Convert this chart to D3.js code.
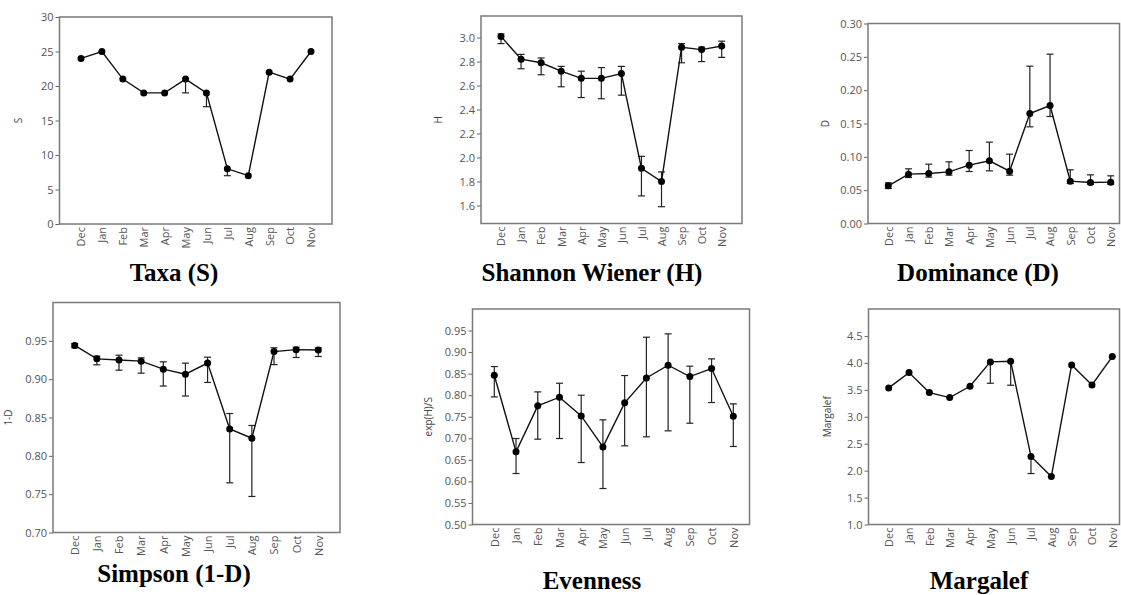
<!DOCTYPE html>
<html>
<head>
<meta charset="utf-8">
<script src="https://cdn.jsdelivr.net/npm/d3@7"></script>
<style>
	body { margin: 0; background: #fff; }
	svg { display: block; }
	.tick text { font-family: 'Open Sans', sans-serif; font-size: 11px; fill: #555; }
	.tick line { stroke: #666; }
	.axis-label { font-family: 'Open Sans', sans-serif; font-size: 10px; fill: #444; }
	.panel-title { font-family: 'Liberation Serif', 'Times New Roman', serif; font-size: 25px; font-weight: bold; fill: #000; }
</style>
</head>
<body>
<svg id="chart-svg" width="1121" height="595"></svg>
<script>
// months on the x axis (Dec .. Nov)
const MONTHS = [ 'Dec', 'Jan', 'Feb', 'Mar', 'Apr', 'May', 'Jun', 'Jul', 'Aug', 'Sep', 'Oct', 'Nov' ];

// Taxa (S)
const S_MEAN = [ 24, 25, 21, 19, 19, 21, 19, 8, 7, 22, 21, 25 ];
const S_LO = [ 24, 25, 21, 19, 19, 19, 17, 7, 7, 22, 21, 25 ];
const S_HI = [ 24, 25, 21, 19, 19, 21, 19, 8, 7, 22, 21, 25 ];
const S_TICKS = [ 0, 5, 10, 15, 20, 25, 30 ];

// Shannon Wiener (H)
const H_MEAN = [ 3.01, 2.82, 2.79, 2.72, 2.66, 2.66, 2.7, 1.91, 1.8, 2.92, 2.9, 2.93 ];
const H_LO = [ 2.95, 2.74, 2.69, 2.59, 2.5, 2.49, 2.52, 1.68, 1.59, 2.79, 2.8, 2.835 ];
const H_HI = [ 3.03, 2.86, 2.83, 2.76, 2.72, 2.75, 2.76, 2.01, 1.88, 2.95, 2.92, 2.97 ];
const H_TICKS = [ 1.6, 1.8, 2.0, 2.2, 2.4, 2.6, 2.8, 3.0 ];

// Dominance (D)
const D_MEAN = [ 0.0565, 0.074, 0.075, 0.0775, 0.0875, 0.094, 0.0785, 0.165, 0.177, 0.0635, 0.0615, 0.062 ];
const D_LO = [ 0.0525, 0.069, 0.0695, 0.0725, 0.078, 0.079, 0.0725, 0.145, 0.1605, 0.06, 0.059, 0.059 ];
const D_HI = [ 0.061, 0.082, 0.089, 0.0925, 0.1095, 0.122, 0.104, 0.236, 0.254, 0.0805, 0.073, 0.0715 ];
const D_TICKS = [ 0, 0.05, 0.1, 0.15, 0.2, 0.25, 0.3 ];

// Simpson (1-D)
const SIMP_MEAN = [ 0.944, 0.9265, 0.925, 0.9235, 0.913, 0.9065, 0.921, 0.835, 0.823, 0.936, 0.9385, 0.938 ];
const SIMP_LO = [ 0.941, 0.9187, 0.9117, 0.9078, 0.891, 0.878, 0.8957, 0.7648, 0.747, 0.919, 0.9283, 0.9296 ];
const SIMP_HI = [ 0.9465, 0.93, 0.9313, 0.9278, 0.9226, 0.9209, 0.9287, 0.8552, 0.8396, 0.9409, 0.9417, 0.9409 ];
const SIMP_TICKS = [ 0.7, 0.75, 0.8, 0.85, 0.9, 0.95 ];

// Evenness exp(H)/S
const EVEN_MEAN = [ 0.8464, 0.6686, 0.7753, 0.7954, 0.752, 0.68, 0.7822, 0.84, 0.8696, 0.8433, 0.8619, 0.7513 ];
const EVEN_LO = [ 0.796, 0.6183, 0.698, 0.6995, 0.6438, 0.5835, 0.6825, 0.7034, 0.7173, 0.735, 0.783, 0.681 ];
const EVEN_HI = [ 0.8665, 0.6995, 0.8077, 0.8278, 0.8, 0.7428, 0.8456, 0.9345, 0.9423, 0.8673, 0.8843, 0.7799 ];
const EVEN_TICKS = [ 0.5, 0.55, 0.6, 0.65, 0.7, 0.75, 0.8, 0.85, 0.9, 0.95 ];

// Margalef
const MARG_MEAN = [ 3.535, 3.82, 3.449, 3.356, 3.566, 4.018, 4.03, 2.262, 1.89, 3.962, 3.591, 4.117 ];
const MARG_LO = [ 3.535, 3.82, 3.449, 3.356, 3.566, 3.622, 3.585, 1.946, 1.89, 3.962, 3.591, 4.117 ];
const MARG_HI = [ 3.535, 3.82, 3.449, 3.356, 3.566, 4.018, 4.03, 2.262, 1.89, 3.962, 3.591, 4.117 ];
const MARG_TICKS = [ 1.0, 1.5, 2.0, 2.5, 3.0, 3.5, 4.0, 4.5 ];

// layout of each panel: frame box, x range of the points, y domain
const PANELS = [
	{ title: 'Taxa (S)', yLabel: 'S', mean: S_MEAN, lo: S_LO, hi: S_HI, ticks: S_TICKS, fmt: 'd',
	  domain: [ 0, 30 ], box: [ 59.5, 332, 17, 224 ], xr: [ 81, 311 ], labelX: 18, titleX: 174, titleY: 281 },
	{ title: 'Shannon Wiener (H)', yLabel: 'H', mean: H_MEAN, lo: H_LO, hi: H_HI, ticks: H_TICKS, fmt: '.1f',
	  domain: [ 1.45, 3.18 ], box: [ 481, 742, 16, 223.5 ], xr: [ 501, 721.7 ], labelX: 438, titleX: 592, titleY: 281 },
	{ title: 'Dominance (D)', yLabel: 'D', mean: D_MEAN, lo: D_LO, hi: D_HI, ticks: D_TICKS, fmt: '.2f',
	  domain: [ 0, 0.3 ], box: [ 868, 1119.5, 23.5, 223.5 ], xr: [ 888.3, 1110.7 ], labelX: 825, titleX: 978, titleY: 281 },
	{ title: 'Simpson (1-D)', yLabel: '1-D', mean: SIMP_MEAN, lo: SIMP_LO, hi: SIMP_HI, ticks: SIMP_TICKS, fmt: '.2f',
	  domain: [ 0.7, 1.0 ], box: [ 53, 340, 302.5, 532.5 ], xr: [ 74.7, 318.3 ], labelX: 8, titleX: 174, titleY: 582 },
	{ title: 'Evenness', yLabel: 'exp(H)/S', mean: EVEN_MEAN, lo: EVEN_LO, hi: EVEN_HI, ticks: EVEN_TICKS, fmt: '.2f',
	  domain: [ 0.5, 1.0 ], box: [ 472.5, 749.5, 309, 524.5 ], xr: [ 494.3, 733.3 ], labelX: 428, titleX: 592, titleY: 589 },
	{ title: 'Margalef', yLabel: 'Margalef', mean: MARG_MEAN, lo: MARG_LO, hi: MARG_HI, ticks: MARG_TICKS, fmt: '.1f',
	  domain: [ 1.0, 5.0 ], box: [ 868.5, 1119.5, 309, 524.5 ], xr: [ 888.7, 1112.3 ], labelX: 827, titleX: 979, titleY: 589 }
];

const svg = d3.select('#chart-svg');

PANELS.forEach((p) => drawPanel(svg, p));

function drawPanel(svg, p) {
	const [ x0, x1, y0, y1 ] = p.box;
	const g = svg.append('g');
	const xScale = d3.scalePoint().domain(MONTHS).range(p.xr);
	const yScale = d3.scaleLinear().domain(p.domain).range([ y1, y0 ]);

	// y axis
	const yAxis = d3.axisLeft(yScale).tickValues(p.ticks).tickSize(4).tickPadding(2).tickFormat(d3.format(p.fmt));
	const yG = g.append('g').attr('transform', 'translate(' + x0 + ',0)').call(yAxis);
	yG.select('.domain').remove();

	// x axis, rotated month labels
	const xAxis = d3.axisBottom(xScale).tickSize(0).tickPadding(0);
	const xG = g.append('g').attr('transform', 'translate(0,' + y1 + ')').call(xAxis);
	xG.select('.domain').remove();
	xG
		.selectAll('text')
		.attr('transform', 'rotate(-90)')
		.attr('x', -3)
		.attr('y', 0)
		.attr('dy', '0.35em')
		.style('text-anchor', 'end');

	// frame
	g
		.append('rect')
		.attr('x', x0)
		.attr('y', y0)
		.attr('width', x1 - x0)
		.attr('height', y1 - y0)
		.attr('fill', 'none')
		.attr('stroke', '#7a7a7a')
		.attr('stroke-width', 1.5);

	// y label
	g
		.append('text')
		.attr('class', 'axis-label')
		.attr('transform', 'translate(' + p.labelX + ',' + (y0 + y1) / 2 + ') rotate(-90)')
		.attr('dy', '0.35em')
		.style('text-anchor', 'middle')
		.text(p.yLabel);

	const rows = MONTHS.map((m, i) => ({ month: m, v: p.mean[i], lo: p.lo[i], hi: p.hi[i] }));

	// error bars
	const eb = g.append('g').attr('stroke', '#222').attr('stroke-width', 1.2);
	rows.forEach((d) => {
		if (d.lo === d.hi) return;
		const cx = xScale(d.month);
		eb.append('line').attr('x1', cx).attr('x2', cx).attr('y1', yScale(d.lo)).attr('y2', yScale(d.hi));
		if (d.lo < d.v) eb.append('line').attr('x1', cx - 3.5).attr('x2', cx + 3.5).attr('y1', yScale(d.lo)).attr('y2', yScale(d.lo));
		if (d.hi > d.v) eb.append('line').attr('x1', cx - 3.5).attr('x2', cx + 3.5).attr('y1', yScale(d.hi)).attr('y2', yScale(d.hi));
	});

	// mean line
	const line = d3.line().x((d) => xScale(d.month)).y((d) => yScale(d.v));
	g.append('path').datum(rows).attr('d', line).attr('fill', 'none').attr('stroke', '#111').attr('stroke-width', 1.4);

	g
		.selectAll('circle')
		.data(rows)
		.enter()
		.append('circle')
		.attr('cx', (d) => xScale(d.month))
		.attr('cy', (d) => yScale(d.v))
		.attr('r', 3.5)
		.attr('fill', '#000');

	// panel title
	svg
		.append('text')
		.attr('class', 'panel-title')
		.attr('x', p.titleX)
		.attr('y', p.titleY)
		.style('text-anchor', 'middle')
		.text(p.title);
}
</script>
</body>
</html>
